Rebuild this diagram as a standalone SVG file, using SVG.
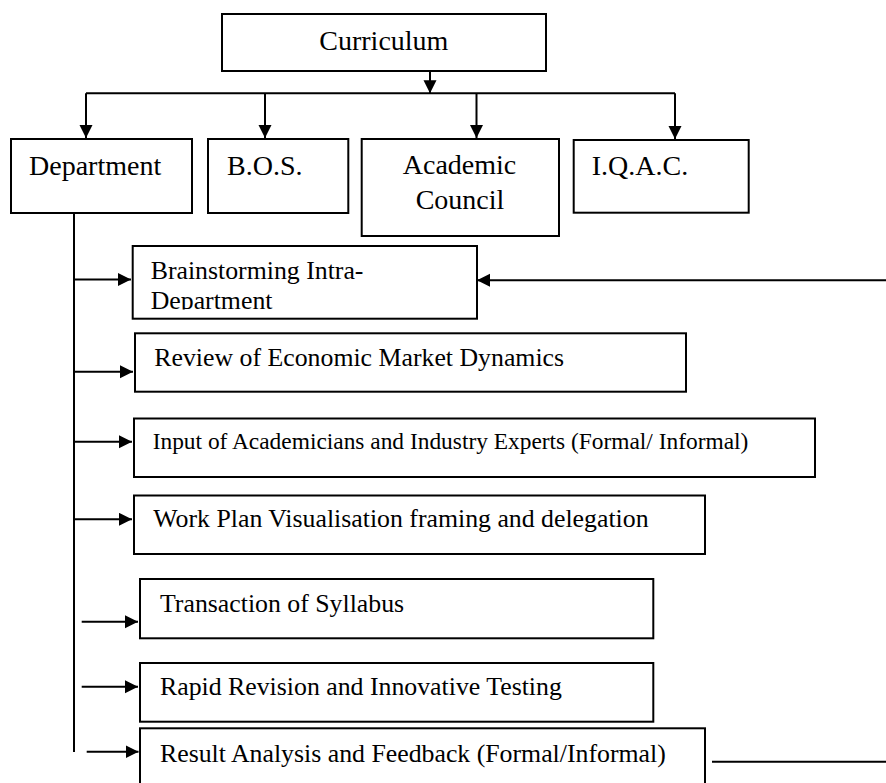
<svg xmlns="http://www.w3.org/2000/svg" width="886" height="783" viewBox="0 0 886 783">
  <style>
    .box { fill: #ffffff; stroke: #000000; stroke-width: 2; }
    .lbl { font-family: "Liberation Serif", "Times New Roman", serif; fill: #000000; }
    .big { font-size: 28px; }
    .mid { font-size: 25.8px; }
    .sm { font-size: 23.4px; }
    .wire { fill: none; stroke: #000000; stroke-width: 2; }
  </style>
  <defs>
    <marker id="arrow" markerUnits="userSpaceOnUse" markerWidth="14" markerHeight="14" refX="13" refY="6.5" orient="auto">
      <path d="M0,0 L13,6.5 L0,13 z" fill="#000000"/>
    </marker>
    <clipPath id="brainClip">
      <rect x="133" y="246" width="344" height="63.5"/>
    </clipPath>
  </defs>

  <rect width="886" height="783" fill="#ffffff"/>

  <!-- connectors -->
  <g id="connectors">
    <line class="wire" x1="430" y1="71" x2="430" y2="93.3" marker-end="url(#arrow)"/>
    <line class="wire" x1="86" y1="93.3" x2="675" y2="93.3"/>
    <line class="wire" x1="86" y1="93.3" x2="86" y2="138" marker-end="url(#arrow)"/>
    <line class="wire" x1="265" y1="93.3" x2="265" y2="138" marker-end="url(#arrow)"/>
    <line class="wire" x1="476.5" y1="93.3" x2="476.5" y2="138" marker-end="url(#arrow)"/>
    <line class="wire" x1="675" y1="93.3" x2="675" y2="139" marker-end="url(#arrow)"/>

    <line class="wire" x1="74" y1="213" x2="74" y2="752"/>
    <line class="wire" x1="74" y1="279.5" x2="131" y2="279.5" marker-end="url(#arrow)"/>
    <line class="wire" x1="74" y1="371.7" x2="133" y2="371.7" marker-end="url(#arrow)"/>
    <line class="wire" x1="74" y1="441.7" x2="132" y2="441.7" marker-end="url(#arrow)"/>
    <line class="wire" x1="74" y1="519.3" x2="132" y2="519.3" marker-end="url(#arrow)"/>
    <line class="wire" x1="81.7" y1="621.7" x2="138" y2="621.7" marker-end="url(#arrow)"/>
    <line class="wire" x1="81.7" y1="686.7" x2="138" y2="686.7" marker-end="url(#arrow)"/>
    <line class="wire" x1="86.7" y1="751.7" x2="138.5" y2="751.7" marker-end="url(#arrow)"/>

    <line class="wire" x1="886" y1="280.3" x2="477" y2="280.3" marker-end="url(#arrow)"/>
    <line class="wire" x1="712" y1="761.7" x2="886" y2="761.7"/>
  </g>

  <!-- top level -->
  <g id="curriculum">
    <rect class="box" x="222" y="14" width="324" height="57"/>
    <text class="lbl big" x="319.3" y="50">Curriculum</text>
  </g>
  <g id="department">
    <rect class="box" x="11" y="139" width="181" height="74"/>
    <text class="lbl big" x="29" y="175">Department</text>
  </g>
  <g id="bos">
    <rect class="box" x="208" y="139" width="140.3" height="74"/>
    <text class="lbl big" x="227" y="175">B.O.S.</text>
  </g>
  <g id="academic-council">
    <rect class="box" x="361.7" y="139" width="197.3" height="97"/>
    <text class="lbl big" x="459.5" y="174" text-anchor="middle">Academic</text>
    <text class="lbl big" x="460" y="209" text-anchor="middle">Council</text>
  </g>
  <g id="iqac">
    <rect class="box" x="573.7" y="140" width="175" height="72.7"/>
    <text class="lbl big" x="591.7" y="175">I.Q.A.C.</text>
  </g>

  <!-- department activities -->
  <g id="brainstorming">
    <rect class="box" x="132.7" y="246" width="344.3" height="72.7"/>
    <g clip-path="url(#brainClip)">
      <text class="lbl mid" x="150.7" y="279.3">Brainstorming Intra-</text>
      <text class="lbl mid" x="150.7" y="308.5">Department</text>
    </g>
  </g>
  <g id="market-review">
    <rect class="box" x="135" y="333.3" width="551" height="58.4"/>
    <text class="lbl mid" x="154.3" y="365.7">Review of Economic Market Dynamics</text>
  </g>
  <g id="expert-input">
    <rect class="box" x="134" y="418.5" width="681" height="58.5"/>
    <text class="lbl sm" x="152.7" y="449.3">Input of Academicians and Industry Experts (Formal/ Informal)</text>
  </g>
  <g id="work-plan">
    <rect class="box" x="134" y="495.5" width="571" height="58.5"/>
    <text class="lbl mid" x="153.3" y="526.7">Work Plan Visualisation framing and delegation</text>
  </g>
  <g id="transaction">
    <rect class="box" x="140" y="579" width="513.3" height="59.3"/>
    <text class="lbl mid" x="160" y="612.3">Transaction of Syllabus</text>
  </g>
  <g id="rapid-revision">
    <rect class="box" x="140" y="663" width="513.3" height="58.7"/>
    <text class="lbl mid" x="160" y="695">Rapid Revision and Innovative Testing</text>
  </g>
  <g id="result-analysis">
    <rect class="box" x="140" y="728.3" width="565" height="70"/>
    <text class="lbl mid" x="160" y="761.7">Result Analysis and Feedback (Formal/Informal)</text>
  </g>
</svg>
